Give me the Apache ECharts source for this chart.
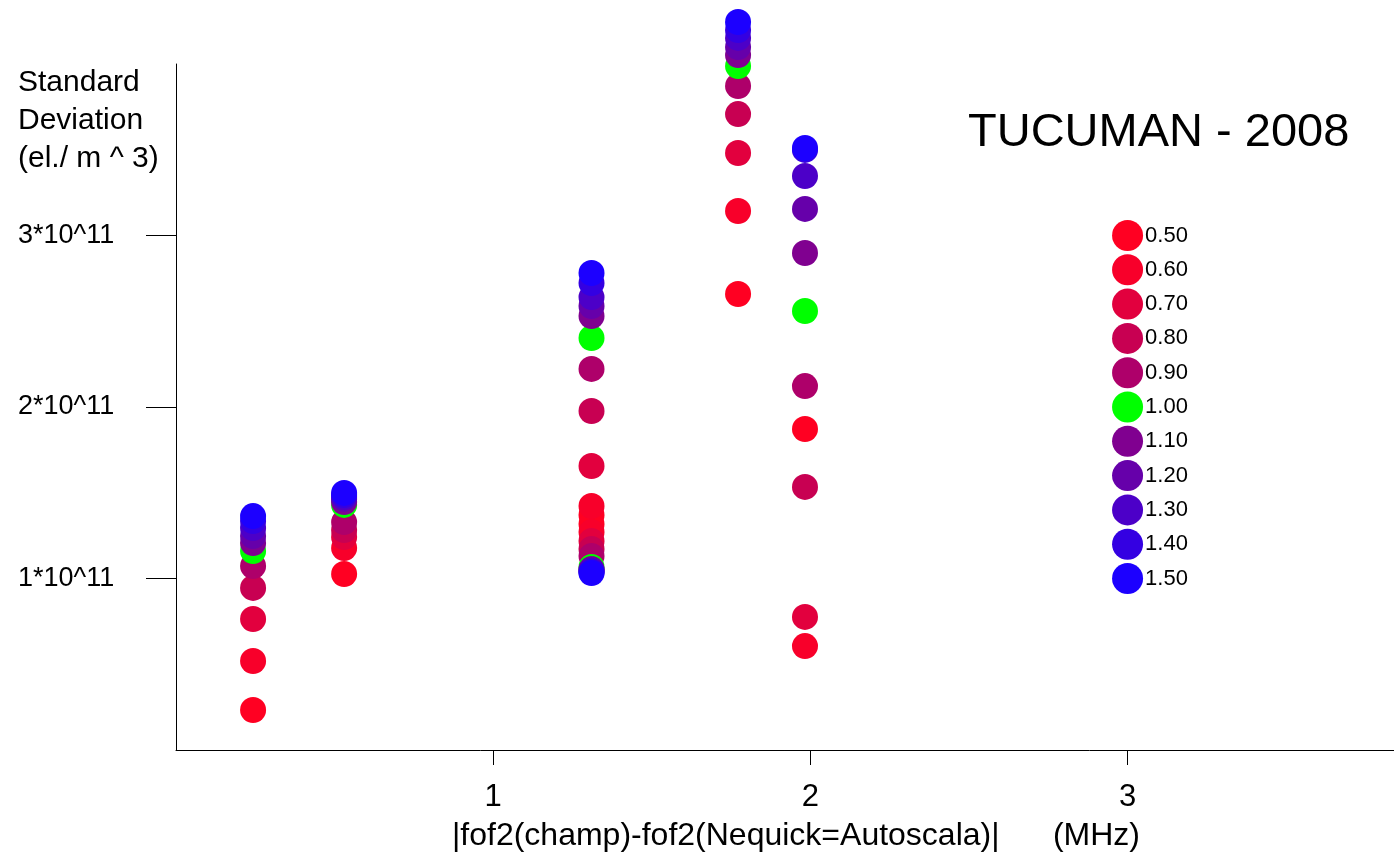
<!DOCTYPE html>
<html>
<head>
<meta charset="utf-8">
<title>TUCUMAN - 2008</title>
<script src="https://cdn.jsdelivr.net/npm/echarts@6/dist/echarts.min.js"></script>
<style>
  html, body { margin: 0; padding: 0; background: #ffffff; }
  #chart { width: 1394px; height: 857px; }
</style>
</head>
<body>
<div id="chart"></div>
<script>
// Levels shown in the key, one colour each
const levels = ['0.50', '0.60', '0.70', '0.80', '0.90', '1.00', '1.10', '1.20', '1.30', '1.40', '1.50'];
const levelColors = ['#ff0022', '#f8002a', '#e2003e', '#c80052', '#ae006a', '#00ff00',
                     '#800090', '#6600aa', '#4c00c8', '#3400e2', '#1c00ff'];

// |fof2(champ) - fof2(Nequick=Autoscala)| (MHz) of each group of points
const groupX = [0.243, 0.530, 1.31, 1.31, 1.772, 1.983];

// Standard deviation (units of 10^11 el./m^3), one value per level, for each group
const sdGroupA = [0.233, 0.519, 0.764, 0.945, 1.073, 1.160, 1.207, 1.248, 1.294, 1.335, 1.364];
const sdGroupB = [1.026, 1.178, 1.242, 1.283, 1.329, 1.429, 1.446, 1.464, 1.475, 1.487, 1.499];
const sdGroupC = [1.370, 1.423, 1.656, 1.977, 2.222, 2.402, 2.531, 2.589, 2.641, 2.723, 2.781];
const sdGroupD = [1.318, 1.271, 1.219, 1.172, 1.131, 1.067, 1.055, 1.050, 1.044, 1.038, 1.032];
const sdGroupE = [2.659, 3.143, 3.481, 3.708, 3.872, 3.988, 4.052, 4.099, 4.152, 4.198, 4.245];
const sdGroupF = [1.872, 0.606, 0.776, 1.534, 2.122, 2.560, 2.898, 3.155, 3.347, 3.499, 3.510];
const sdGroups = [sdGroupA, sdGroupB, sdGroupC, sdGroupD, sdGroupE, sdGroupF];

// Key placement in data units
const keyX = 3;
const keyY = [3.0, 2.8, 2.6, 2.4, 2.2, 2.0, 1.8, 1.6, 1.4, 1.2, 1.0];

// Axis tick labels
const xTickValues = [1, 2, 3];
const xTickLabels = ['1', '2', '3'];
const yTickValues = [1, 2, 3];
const yTickLabels = ['1*10^11', '2*10^11', '3*10^11'];

const chart = echarts.init(document.getElementById('chart'), null, { renderer: 'canvas' });

const dataSeries = levels.map((lv, i) => ({
  name: lv,
  type: 'scatter',
  symbol: 'circle',
  symbolSize: 26,
  clip: false,
  itemStyle: { color: levelColors[i], opacity: 1 },
  emphasis: { disabled: true },
  data: sdGroups.map((g, k) => [groupX[k], g[i]])
}));

const keySeries = {
  name: 'key',
  type: 'scatter',
  symbol: 'circle',
  symbolSize: 31,
  clip: false,
  itemStyle: { opacity: 1 },
  emphasis: { disabled: true },
  data: levels.map((lv, i) => ({
    value: [keyX, keyY[i]],
    itemStyle: { color: levelColors[i], opacity: 1 }
  })),
  label: {
    show: true,
    position: 'right',
    distance: 2,
    color: '#000',
    opacity: 1,
    fontFamily: 'Liberation Sans, Arial, sans-serif',
    fontSize: 22,
    formatter: p => levels[p.dataIndex]
  }
};

const option = {
  animation: false,
  backgroundColor: '#ffffff',
  grid: { left: 176, top: 64, width: 1218, height: 686, containLabel: false },
  xAxis: {
    type: 'value',
    min: 0,
    max: 3.84,
    interval: 1,
    splitLine: { show: false },
    axisLine: { show: true, onZero: false, lineStyle: { color: '#000', width: 1 } },
    axisTick: { show: true, customValues: xTickValues, length: 15, lineStyle: { color: '#000' } },
    axisLabel: {
      show: true,
      customValues: xTickValues,
      margin: 32,
      color: '#000',
      fontFamily: 'Liberation Sans, Arial, sans-serif',
      fontSize: 31,
      formatter: v => xTickLabels[xTickValues.indexOf(v)] || ''
    }
  },
  yAxis: {
    type: 'value',
    min: 0,
    max: 4,
    interval: 1,
    splitLine: { show: false },
    axisLine: { show: true, onZero: false, lineStyle: { color: '#000', width: 1 } },
    axisTick: { show: true, customValues: yTickValues, length: 30, lineStyle: { color: '#000' } },
    axisLabel: {
      show: true,
      customValues: yTickValues,
      margin: 158,
      align: 'left',
      color: '#000',
      fontFamily: 'Liberation Sans, Arial, sans-serif',
      fontSize: 27,
      formatter: v => yTickLabels[yTickValues.indexOf(v)] || ''
    }
  },
  graphic: [
    {
      type: 'text',
      left: 18,
      top: 64,
      style: {
        text: 'Standard\nDeviation\n(el./ m ^ 3)',
        fill: '#000',
        font: '30px "Liberation Sans", Arial, sans-serif',
        lineHeight: 38
      }
    },
    {
      type: 'text',
      left: 968,
      top: 110,
      style: {
        text: 'TUCUMAN - 2008',
        fill: '#000',
        font: '47px "Liberation Sans", Arial, sans-serif'
      }
    },
    {
      type: 'text',
      left: 452,
      top: 820,
      style: {
        text: '|fof2(champ)-fof2(Nequick=Autoscala)|      (MHz)',
        fill: '#000',
        font: '32px "Liberation Sans", Arial, sans-serif'
      }
    }
  ],
  series: dataSeries.concat([keySeries])
};

chart.setOption(option);
</script>
</body>
</html>
